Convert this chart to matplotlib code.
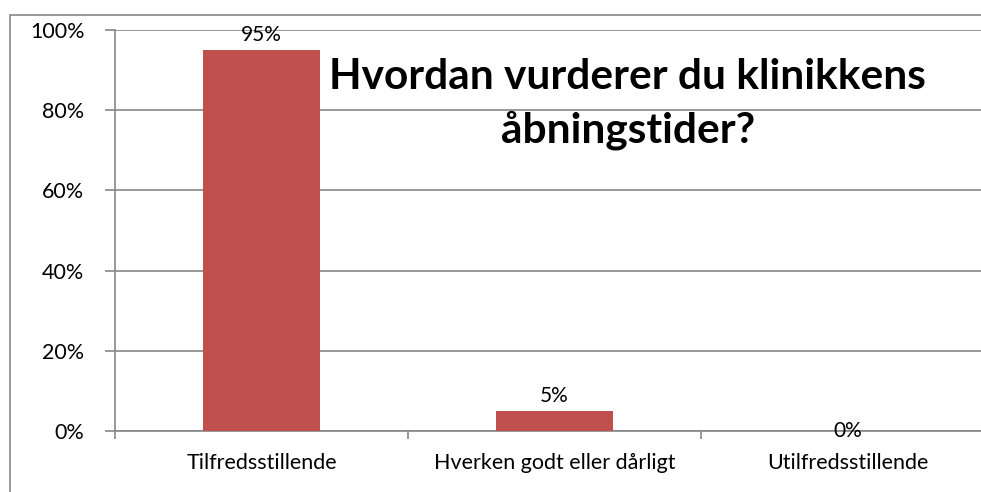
import matplotlib.pyplot as plt
from matplotlib.patches import Rectangle

categories = ['Tilfredsstillende', 'Hverken godt eller dårligt', 'Utilfredsstillende']
values = [95, 5, 0]
yticks = [0, 20, 40, 60, 80, 100]
title = 'Hvordan vurderer du klinikkens\nåbningstider?'

plt.rcParams['font.family'] = ['Lato', 'DejaVu Sans']

fig = plt.figure(figsize=(9.81, 4.92), dpi=100)
ax = fig.add_axes([115 / 981, 1 - 431 / 492, 879 / 981, 401 / 492])

grey = '#868686'
x = range(len(categories))
ax.bar(x, values, width=0.4, color='#C0504D', zorder=3)

for xi, v in zip(x, values):
    if v > 0:
        ax.text(xi, v + 1.2, f'{v}%', ha='center', va='bottom', fontsize=15, zorder=4)
    else:
        ax.text(xi, 0, f'{v}%', ha='center', va='center', fontsize=15, zorder=4)

ax.set_xlim(-0.5, 2.5)
ax.set_ylim(0, 100)
ax.set_yticks(yticks)
ax.set_yticklabels([f'{t}%' for t in yticks], fontsize=15.5)
ax.yaxis.grid(True, color=grey, linewidth=1.2)
ax.set_axisbelow(True)

ax.set_xticks(list(x))
ax.set_xticklabels(categories, fontsize=15.5)
ax.set_xticks([-0.5, 0.5, 1.5, 2.5], minor=True)
ax.tick_params(axis='x', which='major', length=0, pad=16)
ax.tick_params(axis='x', which='minor', length=6, color=grey, width=1.2, direction='out')
ax.tick_params(axis='y', length=7, color=grey, width=1.2, pad=15)

for s in ['top', 'right']:
    ax.spines[s].set_visible(False)
for s in ['left', 'bottom']:
    ax.spines[s].set_color(grey)
    ax.spines[s].set_linewidth(1.2)

ax.text(1.25, 81.5, title, ha='center', va='center', fontsize=30.5,
        fontweight='bold', linespacing=1.45, zorder=5)

fig.patches.append(Rectangle((10 / 981, -0.1), 1.1, 1 - 15 / 492 + 0.1,
                             transform=fig.transFigure, fill=False,
                             edgecolor=grey, linewidth=1.2))

fig.savefig('out.png', dpi=100)
